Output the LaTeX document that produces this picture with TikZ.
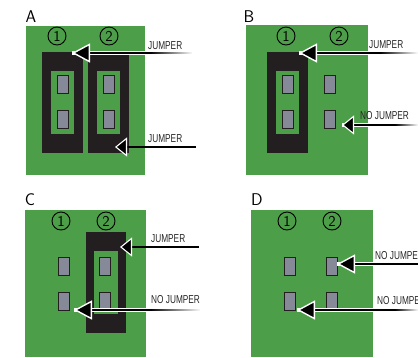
\documentclass[tikz,border=0pt]{standalone}
\usepackage{fontspec}
\setmainfont[FakeStretch=0.72]{Liberation Sans}
\usetikzlibrary{arrows.meta,fadings}
\definecolor{pcb}{HTML}{4C9E48}
\definecolor{jmp}{HTML}{231F20}
\definecolor{pinc}{HTML}{868A98}
\tikzset{
 board/.style={fill=pcb,draw=none,minimum width=0pt},
 jumperbody/.style={fill=jmp,draw=none},
 win/.style={fill=pcb,draw=none},
 pinbox/.style={draw=jmp,line width=0.8pt,fill=pinc,inner sep=0pt,minimum width=11pt,minimum height=18pt},
 circ/.style={circle,draw=black,line width=0.9pt,minimum size=18pt,inner sep=0pt,font=\sffamily\fontsize{15}{15}\selectfont},
 panel/.style={font=\sffamily\fontsize{17}{17}\selectfont,inner sep=0pt},
 lbl/.style={font=\fontsize{11.5}{11.5}\selectfont,anchor=west,inner sep=0pt,text=black!85},
 halo/.style={white,line width=4pt},
 shaft/.style={black,line width=2.2pt,-{Triangle[length=18pt,width=19pt,color=white,fill=black,line width=1.4pt]}},
 shortshaft/.style={black,line width=1.8pt,-{Triangle[length=12pt,width=19pt,color=white,fill=black,line width=1.1pt]}},
}
\newcommand{\jumperat}[1]{%
 \fill[jumperbody] (#1,52) rectangle ++(41,101);
 \fill[win] (#1+9,71) rectangle ++(23,63);
}
\begin{document}
\begin{tikzpicture}[x=1pt,y=-1pt]
\useasboundingbox (0,0) rectangle (418,357);
\clip (0,0) rectangle (418,357);
% panel A
\fill[board] (26,26) rectangle (145,175);
\jumperat{42}\jumperat{88}
\node[pinbox] (a1) at (63,84) {};
\node[pinbox] (a2) at (63,119) {};
\node[pinbox] (a3) at (109,84) {};
\node[pinbox] (a4) at (109,119) {};
\node[circ] (ac1) at (57,36) {1};
\node[circ] (ac2) at (109,36) {2};
\node[panel] (al) at (31,17) {A};
\node[lbl] (aj1) at (148,46) {JUMPER};
\node[lbl] (aj2) at (148,139) {JUMPER};
\coordinate (at1) at (72,53); \coordinate (as1) at (192,53);
\coordinate (at2) at (115,147); \coordinate (as2) at (196,147);
\draw[halo] (as1) -- (at1);
\draw[shaft] (as1) -- (at1);
\fill[white,path fading=west] (150,49) rectangle (193,57);
\draw[shortshaft] (as2) -- (at2);
% panel B
\fill[board] (246,25) rectangle (368,175);
\fill[jumperbody] (267,52) rectangle ++(41,101);
\fill[win] (276,71) rectangle ++(23,63);
\node[pinbox] (b1) at (288,84) {};
\node[pinbox] (b2) at (288,119) {};
\node[pinbox] (b3) at (330,84) {};
\node[pinbox] (b4) at (330,119) {};
\node[circ] (bc1) at (286,36) {1};
\node[circ] (bc2) at (339,36) {2};
\node[panel] (bl) at (249,17) {B};
\node[lbl] (bj1) at (369,45) {JUMPER};
\node[lbl] (bj2) at (360,116) {NO JUMPER};
\coordinate (bt1) at (299,53); \coordinate (bs1) at (418,53);
\coordinate (bt2) at (342,125); \coordinate (bs2) at (418,125);
\draw[halo] (bs1) -- (bt1);
\draw[shaft] (bs1) -- (bt1);
\fill[white,path fading=west] (380,49) rectangle (418,57);
\draw[halo] (bs2) -- (bt2);
\draw[shortshaft] (bs2) -- (bt2);
\fill[white,path fading=west] (395,120) rectangle (418,130);
% panel C
\fill[board] (25,210) rectangle (146,357);
\fill[jumperbody] (86,232) rectangle ++(40,101);
\fill[win] (94,251) rectangle ++(24,63);
\node[pinbox] (c1) at (64,266) {};
\node[pinbox] (c2) at (64,301) {};
\node[pinbox] (c3) at (105,266) {};
\node[pinbox] (c4) at (105,301) {};
\node[circ] (cc1) at (61,221) {1};
\node[circ] (cc2) at (106,221) {2};
\node[panel] (cl) at (30,200) {C};
\node[lbl] (cj1) at (151,239) {JUMPER};
\node[lbl] (cj2) at (151,300) {NO JUMPER};
\coordinate (ct1) at (120,247); \coordinate (cs1) at (199,247);
\coordinate (ct2) at (74,310); \coordinate (cs2) at (200,310);
\draw[shortshaft] (cs1) -- (ct1);
\draw[halo] (cs2) -- (ct2);
\draw[shaft] (cs2) -- (ct2);
\fill[white,path fading=west] (150,306) rectangle (201,314);
% panel D
\fill[board] (251,210) rectangle (373,357);
\node[pinbox] (d1) at (290,266) {};
\node[pinbox] (d2) at (290,301) {};
\node[pinbox] (d3) at (332,266) {};
\node[pinbox] (d4) at (332,301) {};
\node[circ] (dc1) at (287,221) {1};
\node[circ] (dc2) at (332,221) {2};
\node[panel] (dl) at (257,200) {D};
\node[lbl] (dj1) at (375,256) {NO JUMPER};
\node[lbl] (dj2) at (377,301) {NO JUMPER};
\coordinate (dt1) at (337,264); \coordinate (ds1) at (418,264);
\coordinate (dt2) at (297,310); \coordinate (ds2) at (418,310);
\draw[halo] (ds1) -- (dt1);
\draw[shaft] (ds1) -- (dt1);
\draw[halo] (ds2) -- (dt2);
\draw[shaft] (ds2) -- (dt2);
\fill[white,path fading=west] (395,306) rectangle (418,314);
\end{tikzpicture}
\end{document}
